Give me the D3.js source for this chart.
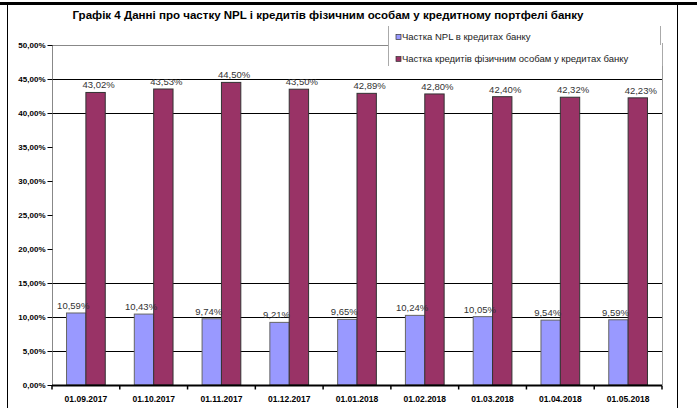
<!DOCTYPE html>
<html><head><meta charset="utf-8">
<script src="https://cdn.jsdelivr.net/npm/d3@7"></script>
<style>body{margin:0;background:#fff}svg{display:block}text{font-family:Arial,"Liberation Sans",sans-serif}</style>
</head><body><svg id="c" width="697" height="408"></svg>
<script>
const title = "Графік 4 Данні про частку NPL і кредитів фізичним особам у кредитному портфелі банку";
const categories = ["01.09.2017","01.10.2017","01.11.2017","01.12.2017","01.01.2018","01.02.2018","01.03.2018","01.04.2018","01.05.2018"];
const seriesNames = ["Частка NPL в кредитах банку","Частка кредитів фізичним особам у кредитах банку"];
const npl = [10.59,10.43,9.74,9.21,9.65,10.24,10.05,9.54,9.59];
const retail = [43.02,43.53,44.50,43.50,42.89,42.80,42.40,42.32,42.23];
const yTicks = [0,5,10,15,20,25,30,35,40,45,50];
const visibleGrid = [5,10,15,40,45];
const colors = ["#9999FF","#993366"];

const svg = d3.select("#c");
const fmt = v => d3.format(".2f")(v).replace(".", ",") + "%";

// outer frame
svg.append("rect").attr("x",0).attr("y",2).attr("width",697).attr("height",3).attr("fill","#000");
svg.append("line").attr("x1",7.5).attr("x2",7.5).attr("y1",5).attr("y2",408).attr("stroke","#000");
svg.append("line").attr("x1",677.5).attr("x2",677.5).attr("y1",5).attr("y2",408).attr("stroke","#000");

svg.append("text").attr("x",328).attr("y",19).attr("text-anchor","middle")
  .attr("font-size",10.5).attr("font-weight","bold").attr("textLength",511).attr("lengthAdjust","spacingAndGlyphs").text(title);

const L = 52, R = 662, T = 45, B = 385;
const x = d3.scaleBand().domain(categories).range([L,R]);
const y = d3.scaleLinear().domain([0,50]).range([B,T]);
const bw = x.bandwidth()/3.5;
const x1 = d3.scaleBand().domain([0,1]).range([0, 2*bw]);
const off = (x.bandwidth()-2*bw)/2;

// gridlines
svg.append("g").selectAll("line").data(yTicks.filter(v=>v>0)).join("line")
  .attr("x1",L).attr("x2",v=> v===50 ? 388 : R)
  .attr("y1",v=>Math.round(y(v))+0.5).attr("y2",v=>Math.round(y(v))+0.5)
  .attr("stroke",v=> v===50 ? "#888" : "#000")
  .attr("display",v=> (v===50 || visibleGrid.includes(v)) ? null : "none");
// plot right border
svg.append("line").attr("x1",R+0.5).attr("x2",R+0.5).attr("y1",T).attr("y2",B).attr("stroke","#999");

// bars
const data = categories.map((c,i)=>({c, vals:[npl[i], retail[i]]}));
const groups = svg.append("g").selectAll("g").data(data).join("g")
  .attr("transform", d=>`translate(${x(d.c)+off},0)`);
groups.selectAll("rect").data(d=>d.vals.map((v,k)=>({v,k}))).join("rect")
  .attr("x",d=>x1(d.k)).attr("width",bw)
  .attr("y",d=>y(d.v)).attr("height",d=>B-y(d.v))
  .attr("fill",d=>colors[d.k]).attr("stroke",d=> d.k===0 ? "#666" : "#333").attr("stroke-width",1);
groups.selectAll("text").data(d=>d.vals.map((v,k)=>({v,k}))).join("text")
  .attr("x",d=>x1(d.k)+bw/2 + (d.k===0?-3:3)).attr("y",d=>y(d.v)-4)
  .attr("text-anchor","middle").attr("font-size",9.5).attr("fill","#333").text(d=>fmt(d.v));

// y axis
const ya = svg.append("g").attr("transform",`translate(${L+0.5},0)`)
  .call(d3.axisLeft(y).tickValues(yTicks).tickFormat(v=>d3.format(".2f")(v).replace(".",",")+"%").tickSize(5).tickPadding(2));
ya.select(".domain").attr("stroke","#888").attr("d",`M0,${T}V${B}`);
ya.selectAll(".tick line").attr("stroke","#000");
ya.selectAll("text").attr("font-size",8).attr("font-weight","bold").attr("font-family","Arial,'Liberation Sans',sans-serif");

// x axis
const xa = svg.append("g").attr("transform",`translate(0,${B+0.5})`)
  .call(d3.axisBottom(x).tickSize(0).tickPadding(10));
xa.select(".domain").attr("stroke","#000").attr("stroke-width",2).attr("d",`M${L},0H${R}`);
xa.selectAll("text").attr("font-size",8.5).attr("font-weight","bold").attr("font-family","Arial,'Liberation Sans',sans-serif");
xa.selectAll(".sep").data(x.domain().concat(["end"])).join("line").attr("class","sep")
  .attr("x1",d=> d==="end" ? R : x(d)).attr("x2",d=> d==="end" ? R : x(d))
  .attr("y1",0).attr("y2",4).attr("stroke","#000").attr("stroke-width",1.5);

// legend
const lg = svg.append("g");
lg.append("rect").attr("x",388.5).attr("y",26.5).attr("width",273).attr("height",40).attr("fill","#fff").attr("stroke","none");
lg.append("line").attr("x1",388.5).attr("x2",388.5).attr("y1",26).attr("y2",66).attr("stroke","#aaa");
lg.append("line").attr("x1",660.5).attr("x2",660.5).attr("y1",26).attr("y2",45).attr("stroke","#aaa");
lg.append("line").attr("x1",662.5).attr("x2",662.5).attr("y1",43).attr("y2",66).attr("stroke","#aaa");
const items = lg.selectAll(".it").data(seriesNames).join("g").attr("class","it")
  .attr("transform",(d,i)=>`translate(396,${37+i*22})`);
items.append("rect").attr("x",0).attr("y",-2.5).attr("width",5).attr("height",5)
  .attr("fill",(d,i)=>colors[i]).attr("stroke","#333").attr("stroke-width",0.7);
items.append("text").attr("x",6).attr("y",3.2).attr("font-size",9.5).attr("fill","#222").text(d=>d);
</script></body></html>
